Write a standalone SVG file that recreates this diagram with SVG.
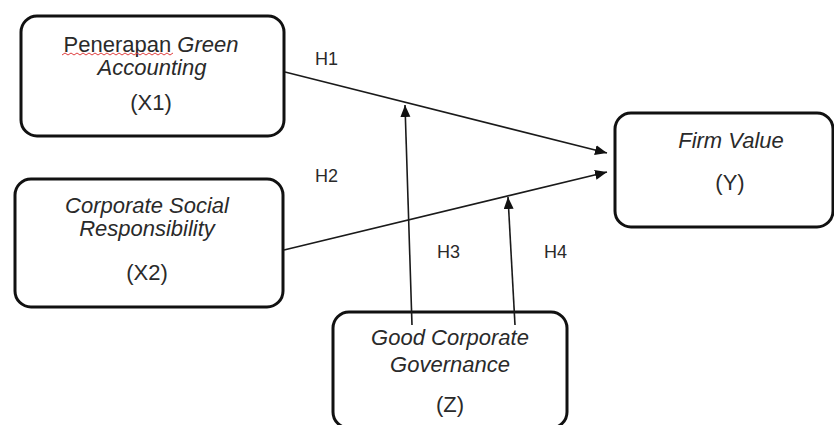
<svg xmlns="http://www.w3.org/2000/svg" width="834" height="425" viewBox="0 0 834 425">
  <style>
    .box { fill: #ffffff; stroke: #111111; stroke-width: 3; }
    .t { font-family: "Liberation Sans", Arial, sans-serif; font-size: 22px; fill: #2a2a2a; text-anchor: middle; }
    .i { font-style: italic; }
    .h { font-family: "Liberation Sans", Arial, sans-serif; font-size: 18px; fill: #2a2a2a; }
    .conn { stroke: #1a1a1a; stroke-width: 1.6; fill: none; marker-end: url(#arr); }
  </style>
  <defs>
    <marker id="arr" markerUnits="userSpaceOnUse" markerWidth="13" markerHeight="11" refX="12" refY="5" orient="auto">
      <path d="M0,0 L12,5 L0,10 z" fill="#111111"/>
    </marker>
  </defs>
  <rect width="834" height="425" fill="#ffffff"/>

  <g id="node-x1">
    <rect class="box" x="21" y="16" width="263" height="120" rx="16" ry="16"/>
    <text class="t" x="151" y="52"><tspan>Penerapan </tspan><tspan class="i">Green</tspan></text>
    <path d="M62,55 l3,-2 l3,2 l3,-2 l3,2 l3,-2 l3,2 l3,-2 l3,2 l3,-2 l3,2 l3,-2 l3,2 l3,-2 l3,2 l3,-2 l3,2 l3,-2 l3,2 l3,-2 l3,2 l3,-2 l3,2 l3,-2 l3,2 l3,-2 l3,2 l3,-2 l3,2 l3,-2 l3,2 l3,-2 l3,2 l3,-2 l3,2 l3,-2 l3,2 l3,-2" fill="none" stroke="#e04040" stroke-width="1"/>
    <text class="t i" x="152" y="75">Accounting</text>
    <text class="t" x="151" y="110">(X1)</text>
  </g>

  <g id="node-x2">
    <rect class="box" x="15" y="179" width="268" height="128" rx="16" ry="16"/>
    <text class="t i" x="147" y="213">Corporate Social</text>
    <text class="t i" x="147" y="236">Responsibility</text>
    <text class="t" x="147" y="280">(X2)</text>
  </g>

  <g id="node-y">
    <rect class="box" x="615" y="113" width="218" height="114" rx="16" ry="16"/>
    <text class="t i" x="731" y="148">Firm Value</text>
    <text class="t" x="730" y="190">(Y)</text>
  </g>

  <g id="node-z">
    <rect class="box" x="333" y="312" width="234" height="116" rx="16" ry="16"/>
    <text class="t i" x="450" y="345">Good Corporate</text>
    <text class="t i" x="450" y="372">Governance</text>
    <text class="t" x="450" y="412">(Z)</text>
  </g>

  <g id="connectors">
    <line class="conn" x1="285" y1="72" x2="607" y2="153"/>
    <line class="conn" x1="284" y1="250" x2="607" y2="172"/>
    <line class="conn" x1="412" y1="325" x2="405" y2="105"/>
    <line class="conn" x1="515" y1="325" x2="508" y2="197"/>
  </g>

  <g id="labels">
    <text class="h" x="315" y="65">H1</text>
    <text class="h" x="315" y="182">H2</text>
    <text class="h" x="437" y="258">H3</text>
    <text class="h" x="544" y="258">H4</text>
  </g>
</svg>
